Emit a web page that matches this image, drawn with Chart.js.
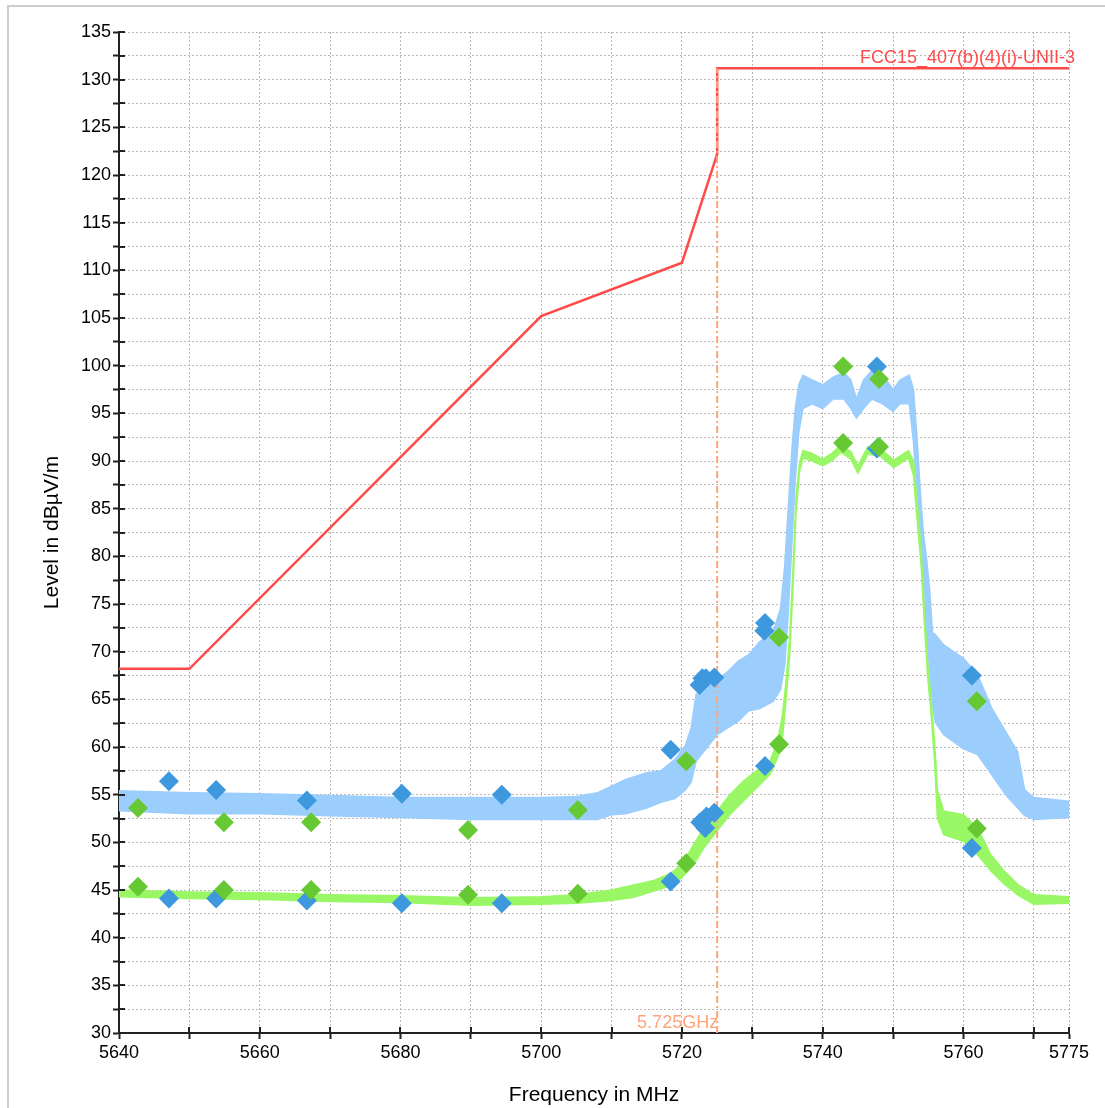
<!DOCTYPE html>
<html>
<head>
<meta charset="utf-8">
<script src="https://cdn.jsdelivr.net/npm/chart.js@4.4.1/dist/chart.umd.min.js"></script>
<style>
  html, body { margin: 0; padding: 0; background: #fff; }
  #wrap { position: relative; width: 1105px; height: 1108px; overflow: hidden; }
  #frame { position: absolute; left: 7px; top: 5px; width: 1110px; height: 1115px; border: 2px solid #cdcdcd; box-sizing: border-box; }
  #chart { position: absolute; left: 0; top: 0; }
</style>
</head>
<body>
<div id="wrap">
  <div id="frame"></div>
  <canvas id="chart" width="1105" height="1108"></canvas>
</div>
<script>
// --- axis ticks ---
const xTickValues = [5640, 5650, 5660, 5670, 5680, 5690, 5700, 5710, 5720, 5730, 5740, 5750, 5760, 5770, 5775];
const xTickLabels = [5640, 5660, 5680, 5700, 5720, 5740, 5760, 5775];
const yTickValues = [];
for (let v = 30; v <= 135; v += 2.5) yTickValues.push(v);
const yTickLabels = [30, 35, 40, 45, 50, 55, 60, 65, 70, 75, 80, 85, 90, 95, 100, 105, 110, 115, 120, 125, 130, 135];

// --- limit line FCC15_407(b)(4)(i) ---
const limitFreq  = [5640, 5650, 5700, 5720, 5725, 5725, 5775];
const limitLevel = [68.2, 68.2, 105.2, 110.8, 122.2, 131.2, 131.2];

// --- peak trace (light blue), noise band upper/lower ---
const peakFreq = [5640, 5650, 5660, 5670, 5680, 5690, 5700, 5705, 5708, 5710, 5712, 5715, 5717, 5719, 5720.5, 5721.3, 5722, 5723.5,
  5725, 5726.5, 5728, 5729.5, 5731, 5733, 5734, 5734.6, 5735.1, 5735.6, 5736.1, 5736.6, 5737.2, 5738.5, 5740, 5741.5, 5743, 5744,
  5744.8, 5745.8, 5747, 5748.5, 5750, 5751, 5752.3, 5752.9, 5753.4, 5753.9, 5754.3, 5754.8, 5755.2, 5755.6, 5756, 5757.2, 5760,
  5762, 5764, 5766, 5767.7, 5768.7, 5770, 5775];
const peakHigh = [55.4, 55.2, 55.1, 54.9, 54.7, 54.7, 54.7, 54.8, 55.2, 55.9, 56.6, 57.3, 57.5, 58.7, 60.2, 62.0, 65.5, 66.6,
  67.0, 67.9, 69.0, 69.7, 71.0, 72.2, 74.5, 79.0, 85.0, 91.0, 95.5, 98.0, 99.0, 98.5, 98.0, 98.8, 99.3, 98.5,
  96.5, 98.5, 99.5, 99.0, 97.5, 98.5, 99.0, 97.5, 92.5, 86.5, 82.5, 79.5, 76.5, 72.0, 71.8, 70.7, 69.3,
  67.6, 64.1, 61.6, 59.5, 55.5, 54.7, 54.3];
const peakLow = [53.3, 53.0, 53.0, 52.8, 52.6, 52.4, 52.4, 52.4, 52.4, 52.9, 53.0, 53.6, 54.2, 54.6, 55.5, 56.3, 58.5, 59.9,
  61.3, 62.0, 62.7, 63.8, 64.0, 64.8, 66.0, 68.5, 74.0, 81.0, 88.0, 93.0, 95.5, 96.0, 95.5, 96.5, 96.5, 95.5,
  94.5, 95.5, 96.5, 96.0, 95.2, 96.0, 96.0, 92.0, 86.5, 80.5, 76.0, 71.5, 68.0, 64.5, 62.6, 61.3, 59.8,
  59.2, 57.1, 55.0, 53.6, 52.8, 52.4, 52.6];

// --- average trace (light green), band upper/lower ---
const avgFreq = [5640, 5650, 5660, 5670, 5680, 5690, 5700, 5705, 5710, 5713, 5716, 5718.3, 5720, 5721.7, 5723.1, 5725, 5726.8,
  5728.7, 5730.6, 5732.5, 5733.6, 5734.3, 5734.8, 5735.3, 5735.8, 5736.2, 5736.7, 5737.2, 5738.5, 5740, 5741.3, 5742.6, 5744,
  5745, 5746.4, 5748.2, 5750.1, 5752.2, 5752.9, 5753.4, 5754, 5754.4, 5754.9, 5755.4, 5755.9, 5756.3, 5757.2, 5760, 5762,
  5763.9, 5765.8, 5767.7, 5770, 5775];
const avgHigh = [45.0, 44.8, 44.7, 44.5, 44.4, 44.2, 44.3, 44.5, 45.0, 45.5, 46.0, 46.7, 47.7, 49.8, 51.5, 53.3, 55.0,
  56.4, 57.5, 58.5, 60.6, 63.5, 67.0, 71.5, 79.0, 86.0, 89.8, 91.1, 90.8, 90.2, 90.8, 91.7, 91.0,
  89.5, 91.5, 91.3, 90.1, 91.1, 90.0, 86.0, 80.5, 75.0, 69.0, 65.0, 60.5, 55.5, 53.3, 52.9, 51.5,
  48.7, 47.0, 45.6, 44.5, 44.3];
const avgLow = [44.3, 44.1, 44.0, 43.8, 43.7, 43.4, 43.5, 43.6, 43.9, 44.2, 44.9, 45.4, 46.3, 47.7, 49.4, 51.2, 52.9,
  54.3, 55.7, 57.1, 58.9, 61.0, 65.0, 69.5, 77.0, 84.5, 88.8, 90.3, 90.0, 89.5, 90.0, 90.9, 90.2,
  88.7, 90.7, 90.5, 89.3, 90.3, 88.5, 84.0, 79.0, 73.5, 67.5, 63.5, 58.5, 52.5, 50.8, 50.1, 48.7,
  47.0, 45.6, 44.5, 43.5, 43.6];

// --- final measurement markers ---
const blueMarkFreq  = [5647.1, 5653.8, 5666.7, 5680.2, 5694.4, 5718.4, 5722.5, 5722.9, 5723.4, 5724.6, 5731.8, 5731.7, 5747.7, 5761.2,
  5647.1, 5653.8, 5666.7, 5680.2, 5694.4, 5718.4, 5722.6, 5723.3, 5723.5, 5724.6, 5731.8, 5747.7, 5761.2];
const blueMarkLevel = [56.4, 55.5, 54.4, 55.1, 55.0, 59.7, 66.5, 67.2, 67.2, 67.3, 73.0, 72.2, 99.9, 67.5,
  44.1, 44.1, 43.9, 43.6, 43.6, 45.9, 52.1, 51.5, 52.7, 53.1, 58.0, 91.3, 49.4];
const greenMarkFreq  = [5642.7, 5654.9, 5667.3, 5689.6, 5705.2, 5720.6, 5733.8, 5742.9, 5748.0, 5761.9,
  5642.7, 5654.9, 5667.3, 5689.6, 5705.2, 5720.6, 5733.8, 5742.9, 5748.0, 5761.9];
const greenMarkLevel = [53.6, 52.1, 52.1, 51.3, 53.4, 58.5, 71.5, 99.9, 98.6, 64.8,
  45.35, 45.0, 45.0, 44.5, 44.6, 47.8, 60.3, 91.9, 91.5, 51.45];

const edgeFreq = [5725, 5725];
const edgeLevel = [30, 131.2];

const pts = (xs, ys) => xs.map((x, i) => ({ x: x, y: ys[i] }));

const FONT = '"Liberation Sans", Arial, sans-serif';
const AXIS = '#222';

// inner half of the tick marks, label texts, axis titles
const overlay = {
    id: 'overlay',
    afterDraw(chart) {
        const ctx = chart.ctx, xs = chart.scales.x, ys = chart.scales.y, a = chart.chartArea;
        ctx.save();
        ctx.strokeStyle = AXIS;
        ctx.lineWidth = 2;
        ctx.beginPath();
        ys.ticks.forEach(t => {
            const y = Math.round(ys.getPixelForValue(t.value));
            ctx.moveTo(a.left, y); ctx.lineTo(a.left + 6, y);
        });
        xs.ticks.forEach(t => {
            const x = Math.round(xs.getPixelForValue(t.value));
            ctx.moveTo(x, a.bottom); ctx.lineTo(x, a.bottom - 6);
        });
        ctx.stroke();

        ctx.font = '18px ' + FONT;
        ctx.textAlign = 'right';
        ctx.textBaseline = 'alphabetic';
        ctx.fillStyle = '#ff4a4a';
        ctx.fillText('FCC15_407(b)(4)(i)-UNII-3', 1075, 63);
        ctx.fillStyle = '#ffa47a';
        ctx.fillText('5.725GHz', xs.getPixelForValue(5725) + 1, 1028);

        ctx.fillStyle = '#000';
        ctx.font = '21px ' + FONT;
        ctx.textAlign = 'center';
        ctx.fillText('Frequency in MHz', (a.left + a.right) / 2, 1101);
        ctx.translate(58, (a.top + a.bottom) / 2);
        ctx.rotate(-Math.PI / 2);
        ctx.fillText('Level in dB\u00b5V/m', 0, 0);
        ctx.restore();
    }
};

new Chart(document.getElementById('chart'), {
    type: 'scatter',
    data: {
        datasets: [
            { data: pts(greenMarkFreq, greenMarkLevel), pointStyle: 'rectRot', pointRadius: 10, pointBackgroundColor: '#66c933', pointBorderWidth: 0, showLine: false },
            { data: pts(blueMarkFreq, blueMarkLevel), pointStyle: 'rectRot', pointRadius: 10, pointBackgroundColor: '#3d98de', pointBorderWidth: 0, showLine: false },
            { data: pts(edgeFreq, edgeLevel), showLine: true, borderColor: '#ffa47a', borderWidth: 2, borderDash: [7, 3, 2, 3], pointRadius: 0 },
            { data: pts(limitFreq, limitLevel), showLine: true, borderColor: '#ff4a4a', borderWidth: 2.5, pointRadius: 0 },
            { data: pts(avgFreq, avgHigh), showLine: true, borderColor: '#99f766', backgroundColor: '#99f766', borderWidth: 1.5, pointRadius: 0, fill: '+1' },
            { data: pts(avgFreq, avgLow), showLine: true, borderColor: '#99f766', borderWidth: 1.5, pointRadius: 0 },
            { data: pts(peakFreq, peakHigh), showLine: true, borderColor: '#9bcdfd', backgroundColor: '#9bcdfd', borderWidth: 1.5, pointRadius: 0, fill: '+1' },
            { data: pts(peakFreq, peakLow), showLine: true, borderColor: '#9bcdfd', borderWidth: 1.5, pointRadius: 0 }
        ]
    },
    options: {
        responsive: false,
        animation: false,
        devicePixelRatio: 1,
        layout: { padding: { top: 32, right: 36, left: 0, bottom: 0 } },
        plugins: { legend: { display: false }, tooltip: { enabled: false } },
        scales: {
            x: {
                type: 'linear', min: 5640, max: 5775,
                afterBuildTicks: s => { s.ticks = xTickValues.map(v => ({ value: v })); },
                afterFit: s => { s.height = 75; },
                grid: { color: '#b9b9b9', lineWidth: 1, tickLength: 6, tickColor: AXIS, tickWidth: 2 },
                border: { display: true, color: AXIS, width: 2, dash: [2, 2] },
                ticks: {
                    autoSkip: false, maxRotation: 0, minRotation: 0, padding: 3,
                    color: '#000', font: { family: FONT, size: 18 },
                    callback: v => xTickLabels.includes(v) ? String(v) : ''
                }
            },
            y: {
                type: 'linear', min: 30, max: 135,
                afterBuildTicks: s => { s.ticks = yTickValues.map(v => ({ value: v })); },
                afterFit: s => { s.width = 119; },
                grid: { color: '#b9b9b9', lineWidth: 1, tickLength: 6, tickColor: AXIS, tickWidth: 2 },
                border: { display: true, color: AXIS, width: 2, dash: [2, 2] },
                ticks: {
                    autoSkip: false, padding: 2,
                    color: '#000', font: { family: FONT, size: 18 },
                    callback: v => yTickLabels.includes(v) ? String(v) : ''
                }
            }
        }
    },
    plugins: [overlay]
});
</script>
</body>
</html>
